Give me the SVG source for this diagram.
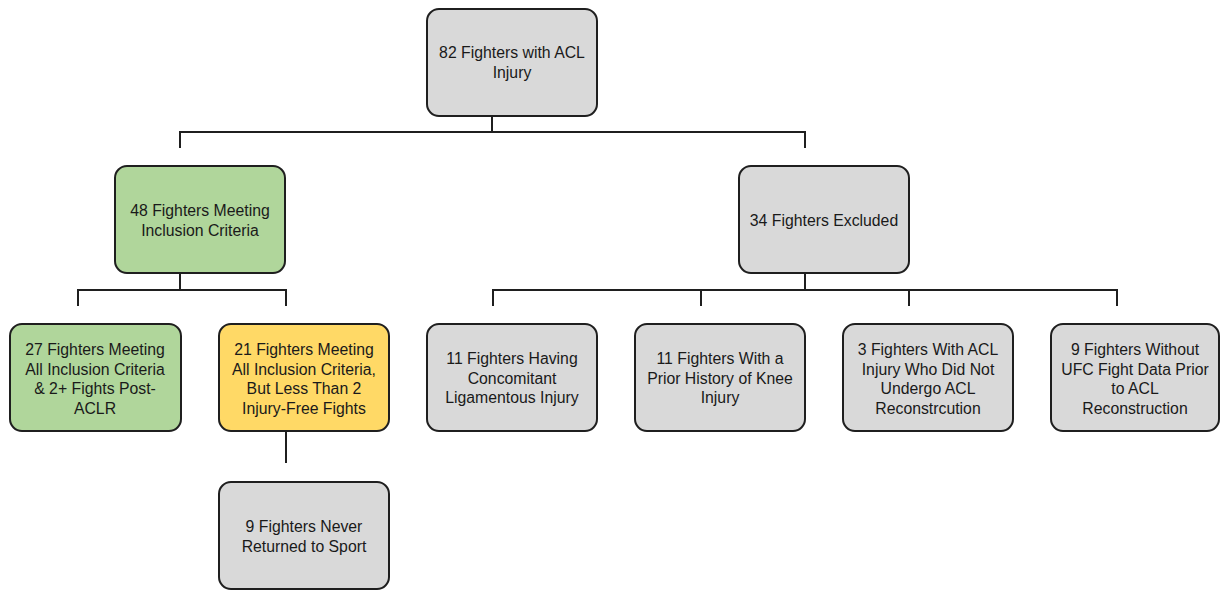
<svg xmlns="http://www.w3.org/2000/svg" width="1220" height="590" viewBox="0 0 1220 590">
<style>
.box{stroke:#1f1f1f;stroke-width:2}
.gray{fill:#d9d9d9}
.green{fill:#b0d69b}
.yellow{fill:#ffd966}
.t{font-family:"Liberation Sans",Arial,sans-serif;font-size:15.8px;fill:#1a1a1a;text-anchor:middle}
.c{stroke:#1f1f1f;stroke-width:2;fill:none}
.f{stroke:#bdbdbd;stroke-width:1.5;fill:none}
</style>
<rect width="1220" height="590" fill="#ffffff"/>
<g id="connectors">
<line class="f" x1="492" y1="100" x2="492" y2="116"/>
<polyline class="c" points="492,116 492,132"/>
<polyline class="c" points="180,148 180,132 805,132 805,148"/>
<line class="f" x1="180" y1="258" x2="180" y2="273"/>
<polyline class="c" points="180,273 180,290"/>
<polyline class="c" points="78,306 78,290 286,290 286,306"/>
<line class="f" x1="805" y1="258" x2="805" y2="273"/>
<polyline class="c" points="805,273 805,290"/>
<polyline class="c" points="493,306 493,290 1117,290 1117,306"/>
<line class="c" x1="701" y1="290" x2="701" y2="306"/>
<line class="c" x1="909" y1="290" x2="909" y2="306"/>
<line class="f" x1="286" y1="418" x2="286" y2="431"/>
<polyline class="c" points="286,431 286,463"/>
</g>
<g id="n1">
<rect class="box gray" x="427" y="9" width="170" height="107" rx="12"/>
<text class="t" x="512" y="58">82 Fighters with ACL</text>
<text class="t" x="512" y="78">Injury</text>
</g>
<g id="n2">
<rect class="box green" x="115" y="166" width="170" height="107" rx="12"/>
<text class="t" x="200" y="216">48 Fighters Meeting</text>
<text class="t" x="200" y="236">Inclusion Criteria</text>
</g>
<g id="n3">
<rect class="box gray" x="739" y="166" width="170" height="107" rx="12"/>
<text class="t" x="824" y="226">34 Fighters Excluded</text>
</g>
<g id="n4">
<rect class="box green" x="10" y="324" width="171" height="107" rx="12"/>
<text class="t" x="95" y="355">27 Fighters Meeting</text>
<text class="t" x="95" y="374.5">All Inclusion Criteria</text>
<text class="t" x="95" y="394">&amp; 2+ Fights Post-</text>
<text class="t" x="95" y="413.5">ACLR</text>
</g>
<g id="n5">
<rect class="box yellow" x="219" y="324" width="170" height="107" rx="12"/>
<text class="t" x="304" y="355">21 Fighters Meeting</text>
<text class="t" x="304" y="374.5">All Inclusion Criteria,</text>
<text class="t" x="304" y="394">But Less Than 2</text>
<text class="t" x="304" y="413.5">Injury-Free Fights</text>
</g>
<g id="n6">
<rect class="box gray" x="427" y="324" width="170" height="107" rx="12"/>
<text class="t" x="512" y="364">11 Fighters Having</text>
<text class="t" x="512" y="384">Concomitant</text>
<text class="t" x="512" y="403">Ligamentous Injury</text>
</g>
<g id="n7">
<rect class="box gray" x="635" y="324" width="170" height="107" rx="12"/>
<text class="t" x="720" y="364">11 Fighters With a</text>
<text class="t" x="720" y="384">Prior History of Knee</text>
<text class="t" x="720" y="403">Injury</text>
</g>
<g id="n8">
<rect class="box gray" x="843" y="324" width="170" height="107" rx="12"/>
<text class="t" x="928" y="355">3 Fighters With ACL</text>
<text class="t" x="928" y="374.5">Injury Who Did Not</text>
<text class="t" x="928" y="394">Undergo ACL</text>
<text class="t" x="928" y="413.5">Reconstrcution</text>
</g>
<g id="n9">
<rect class="box gray" x="1051" y="324" width="168" height="107" rx="12"/>
<text class="t" x="1135" y="355">9 Fighters Without</text>
<text class="t" x="1135" y="374.5">UFC Fight Data Prior</text>
<text class="t" x="1135" y="394">to ACL</text>
<text class="t" x="1135" y="413.5">Reconstruction</text>
</g>
<g id="n10">
<rect class="box gray" x="219" y="482" width="170" height="107" rx="12"/>
<text class="t" x="304" y="532">9 Fighters Never</text>
<text class="t" x="304" y="552">Returned to Sport</text>
</g>
</svg>
